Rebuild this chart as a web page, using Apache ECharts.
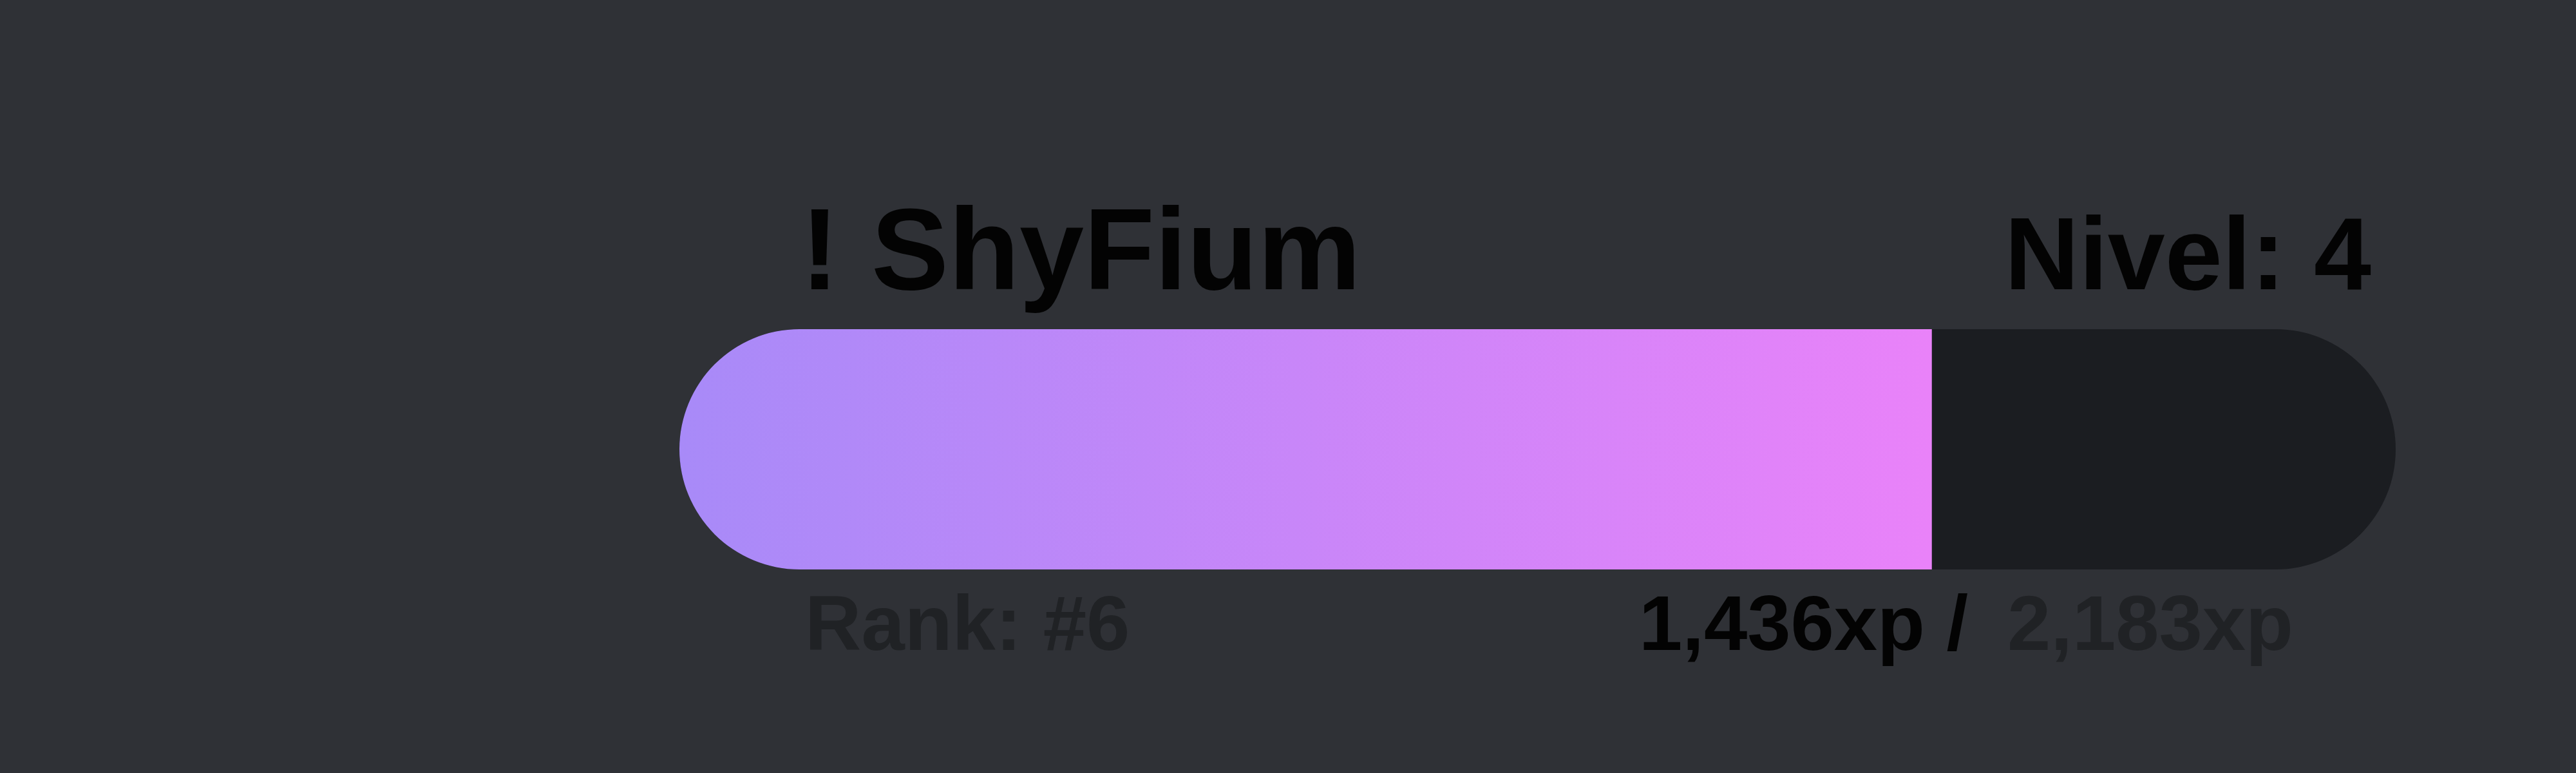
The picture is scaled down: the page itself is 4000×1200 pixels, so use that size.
<!DOCTYPE html>
<html>
<head>
<meta charset="utf-8">
<script src="https://cdn.jsdelivr.net/npm/echarts@6/dist/echarts.min.js"></script>
<style>
  html, body { margin: 0; padding: 0; background: #2f3136; }
  #chart { width: 4000px; height: 1200px; }
</style>
</head>
<body>
<div id="chart"></div>
<script>
// ---- data ----
const userNames = ['! ShyFium'];
const levels = [4];
const ranks = [6];
const currentXP = [1436];
const requiredXP = [2183];
// rounded lead-in drawn before the xp part of the fill (xp units)
const barLeadIn = [157];

const FONT = '"Liberation Sans", Arial, Helvetica, sans-serif';
const fmt = v => v.toLocaleString('en-US');

// fill length on the xp axis = lead-in cap + current xp
const fillValues = currentXP.map((v, i) => v + barLeadIn[i]);

const chart = echarts.init(document.getElementById('chart'), null, { renderer: 'canvas' });

const R = 186.5;
const START = '#a88af8';
const END = '#e982f9';
const option = {
  backgroundColor: '#2f3136',
  animation: false,
  grid: { left: 1055, top: 511, width: 2665, height: 373, containLabel: false },
  xAxis: { type: 'value', min: 0, max: requiredXP[0], show: false, splitLine: { show: false } },
  yAxis: { type: 'category', data: userNames, show: false },
  series: [
    {
      name: 'track', type: 'bar', data: requiredXP, barWidth: 373, barGap: '-100%',
      silent: true, z: 1,
      itemStyle: { color: '#1b1d21', borderRadius: R }
    },
    {
      name: 'xp', type: 'bar', data: fillValues, barWidth: 373, barGap: '-100%',
      silent: true, z: 2,
      itemStyle: {
        borderRadius: [R, 0, 0, R],
        color: new echarts.graphic.LinearGradient(0, 0, 1, 0, [
          { offset: 0, color: START },
          { offset: 1, color: END }
        ])
      }
    }
  ],
  graphic: [
    {
      type: 'text', x: 1243, y: 399, silent: true,
      style: { text: userNames[0], fontFamily: FONT, fontWeight: 'bold', fontSize: 180,
               fill: '#030303', align: 'left', verticalAlign: 'middle' }
    },
    {
      type: 'text', x: 3682, y: 405, silent: true,
      style: { text: 'Nivel: ' + levels[0], fontFamily: FONT, fontWeight: 'bold', fontSize: 160,
               fill: '#030303', align: 'right', verticalAlign: 'middle' }
    },
    {
      type: 'text', x: 1250, y: 976, silent: true,
      style: { text: 'Rank: #' + ranks[0], fontFamily: FONT, fontWeight: 'bold', fontSize: 121,
               fill: '#202225', align: 'left', verticalAlign: 'middle' }
    },
    {
      type: 'text', x: 2545, y: 976, silent: true,
      style: { text: fmt(currentXP[0]) + 'xp /', fontFamily: FONT, fontWeight: 'bold', fontSize: 121,
               fill: '#030303', align: 'left', verticalAlign: 'middle' }
    },
    {
      type: 'text', x: 3561, y: 976, silent: true,
      style: { text: fmt(requiredXP[0]) + 'xp', fontFamily: FONT, fontWeight: 'bold', fontSize: 121,
               fill: '#202225', align: 'right', verticalAlign: 'middle' }
    }
  ]
};
chart.setOption(option);
</script>
</body>
</html>
